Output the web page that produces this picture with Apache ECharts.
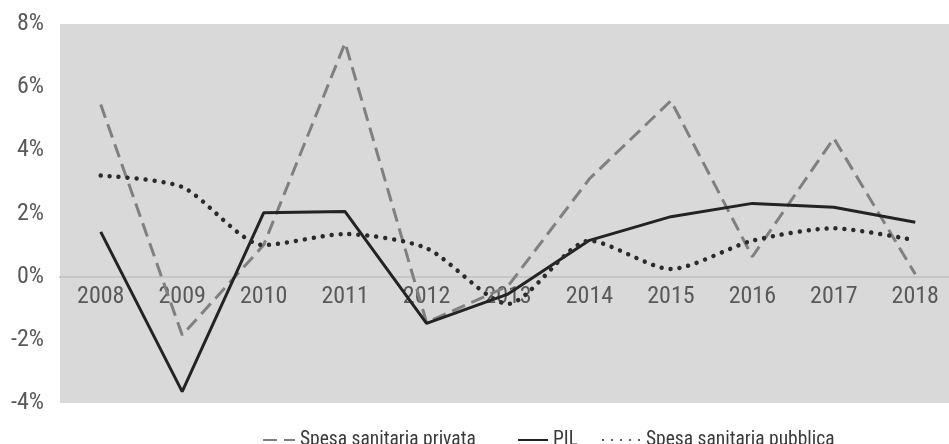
<!DOCTYPE html>
<html>
<head>
<meta charset="utf-8">
<script src="https://cdn.jsdelivr.net/npm/echarts@6/dist/echarts.min.js"></script>
<style>
  html, body { margin: 0; padding: 0; background: #ffffff; }
  #chart { width: 949px; height: 444px; }
</style>
</head>
<body>
<div id="chart"></div>
<script>
// Annual growth rates (%), 2008-2018
const years = ['2008', '2009', '2010', '2011', '2012', '2013', '2014', '2015', '2016', '2017', '2018'];
const spesaPrivata = [5.45, -1.85, 1.0, 7.4, -1.45, -0.3, 3.1, 5.57, 0.63, 4.38, 0.08];
const pil = [1.42, -3.64, 2.02, 2.06, -1.48, -0.55, 1.15, 1.9, 2.32, 2.2, 1.72];
const spesaPubblica = [3.2, 2.84, 1.0, 1.35, 0.9, -0.86, 1.14, 0.24, 1.14, 1.53, 1.15];
const yTicks = { min: -4, max: 8, step: 2 };

// Roboto is variable-width; 'condensed' in the font shorthand narrows it
const FAMILY = 'Roboto, "Liberation Sans", sans-serif';
const STRETCH = 'condensed';
const TEXT_COLOR = '#595959';

const GRID = { left: 60, right: -7, top: 24, bottom: 41 };

const legendText = { fontFamily: FAMILY, fontWeight: STRETCH, fontSize: 19.5, color: '#3a3a3a' };
function legendAt(name, left, width) {
  return {
    data: [name], left: left, top: 425,
    itemWidth: width, itemHeight: 14, itemGap: 0, itemTextGap: 2,
    itemStyle: { opacity: 0 },
    textStyle: legendText
  };
}

const chart = echarts.init(document.getElementById('chart'));
const option = {
  animation: false,
  backgroundColor: '#ffffff',
  textStyle: { fontFamily: FAMILY },
  grid: Object.assign({
    show: true, backgroundColor: '#d9d9d9', borderWidth: 0,
    containLabel: false, outerBoundsMode: 'none'
  }, GRID),
  legend: [
    legendAt('Spesa sanitaria privata', 257, 32),
    legendAt('PIL', 512, 30),
    legendAt('Spesa sanitaria pubblica', 597, 38)
  ],
  xAxis: {
    type: 'category',
    data: years,
    boundaryGap: true,
    axisLine: { onZero: false, lineStyle: { color: '#c6c6c6', width: 2 } },
    axisTick: { show: false },
    axisLabel: { color: TEXT_COLOR, fontSize: 24, fontFamily: FAMILY, fontWeight: STRETCH, margin: 8 },
    splitLine: { show: false }
  },
  yAxis: {
    type: 'value',
    min: yTicks.min, max: yTicks.max, interval: yTicks.step,
    axisLine: { show: false },
    axisTick: { show: false },
    splitLine: { show: false },
    axisLabel: {
      color: TEXT_COLOR, fontSize: 24, fontFamily: FAMILY, fontWeight: STRETCH,
      margin: 16, formatter: '{value}%'
    }
  },
  series: [
    {
      name: 'Spesa sanitaria privata',
      type: 'line',
      data: spesaPrivata,
      symbol: 'none',
      lineStyle: { color: '#808080', width: 3, type: [14, 7] },
      itemStyle: { color: '#808080' },
      z: 2
    },
    {
      name: 'PIL',
      type: 'line',
      data: pil,
      symbol: 'none',
      lineStyle: { color: '#232323', width: 3, type: 'solid' },
      itemStyle: { color: '#232323' },
      z: 3
    },
    {
      name: 'Spesa sanitaria pubblica',
      type: 'line',
      data: spesaPubblica,
      symbol: 'none',
      smooth: 0.25,
      lineStyle: { color: '#2b2b2b', width: 4.5, type: [0.01, 9], cap: 'round' },
      itemStyle: { color: '#2b2b2b' },
      z: 4
    }
  ]
};
chart.setOption(option);

// Put the category axis (line and labels) on the 0% level
const zeroY = chart.convertToPixel({ yAxisIndex: 0 }, 0);
const plotBottom = chart.getHeight() - GRID.bottom;
chart.setOption({ xAxis: { offset: -(plotBottom - zeroY) } });
</script>
</body>
</html>
